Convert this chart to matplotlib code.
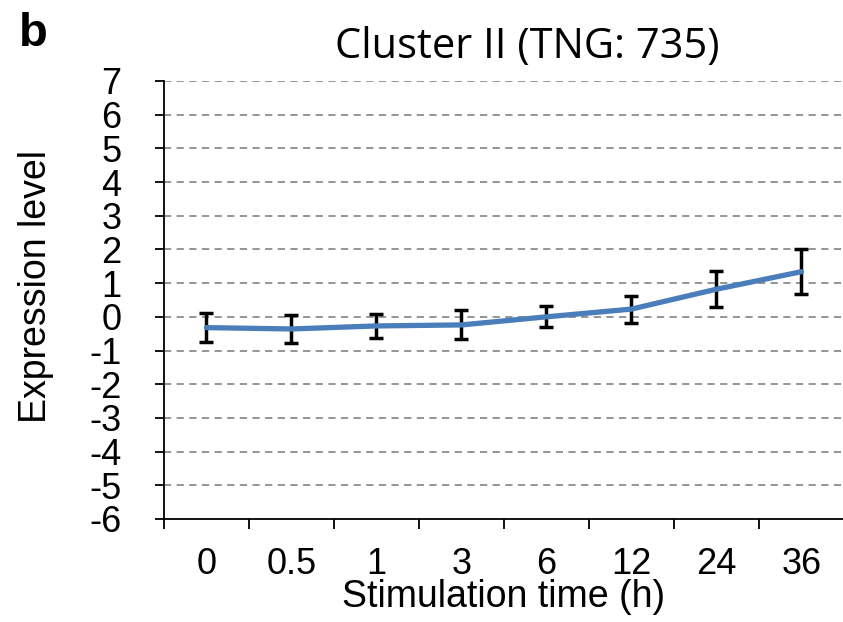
import matplotlib.pyplot as plt

times = ["0", "0.5", "1", "3", "6", "12", "24", "36"]
expr = [-0.32, -0.36, -0.27, -0.24, 0.0, 0.23, 0.82, 1.34]
err = [0.43, 0.41, 0.35, 0.43, 0.31, 0.40, 0.53, 0.67]

plt.rcParams['font.family'] = ['Liberation Sans', 'DejaVu Sans']

fig = plt.figure(figsize=(8.43, 6.22), dpi=100)
ax = fig.add_axes([0.1945, 0.1656, 0.8066, 0.7042])

x = list(range(len(times)))
ax.errorbar(x, expr, yerr=err, fmt='none', ecolor='black', elinewidth=2.5,
            capsize=5, capthick=2.5, zorder=3)
ax.plot(x, expr, color='#4a7ebb', lw=3.8, zorder=4, solid_capstyle='round')

ax.set_xlim(-0.5, 7.5)
ax.set_ylim(-6, 7)
ax.set_yticks(range(-6, 8))
ax.set_yticklabels([str(v) for v in range(-6, 8)], fontsize=26)
for v in range(-5, 8):
    ax.axhline(v, color='#8c8c8c', lw=1.3, ls=(0, (4, 3)), zorder=1)

ax.set_xticks(x)
ax.set_xticklabels(times, fontsize=26)
ax.set_xticks([i - 0.5 for i in range(len(times) + 1)], minor=True)
ax.tick_params(axis='x', which='major', length=0, pad=20)
ax.tick_params(axis='x', which='minor', length=7, width=1.3, direction='out')
ax.tick_params(axis='y', length=6.5, width=1.3, direction='out', pad=24)

for s in ['top', 'right']:
    ax.spines[s].set_visible(False)
ax.spines['left'].set_linewidth(1.3)
ax.spines['bottom'].set_linewidth(1.3)

ax.set_xlabel("Stimulation time (h)", fontsize=27, labelpad=-2)
ax.set_ylabel("Expression level", fontsize=27)
ax.yaxis.set_label_coords(-0.162, 0.53)

fig.text(0.625, 0.925, "Cluster II (TNG: 735)", fontsize=30, ha='center', va='center',
         family=['Open Sans', 'DejaVu Sans'])
fig.text(0.022, 0.945, "b", fontsize=34, fontweight='bold', ha='left', va='center')

fig.savefig("out.png", dpi=100)
